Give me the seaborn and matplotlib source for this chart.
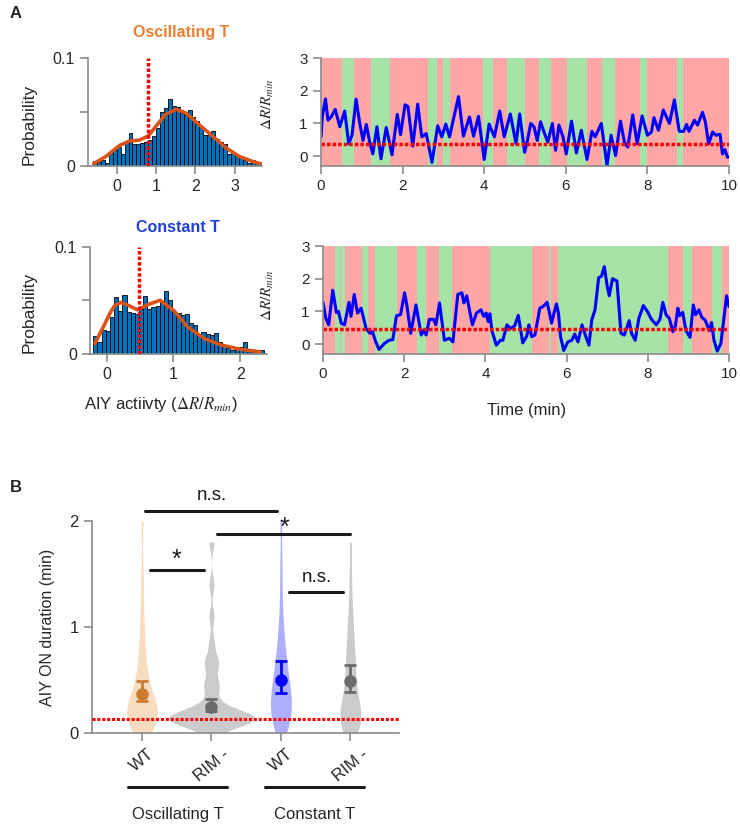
import matplotlib
matplotlib.use("Agg")
import matplotlib.pyplot as plt
import numpy as np
import pandas as pd
import seaborn as sns

# ---- panel A: histograms of AIY activity ----
osc_hist = [0.005, 0.004, 0.006, 0.003, 0.012, 0.015, 0.018, 0.011, 0.022, 0.031,
            0.020, 0.020, 0.021, 0.022, 0.024, 0.028, 0.035, 0.050, 0.054, 0.062,
            0.056, 0.055, 0.049, 0.047, 0.052, 0.045, 0.042, 0.036, 0.029, 0.029,
            0.032, 0.025, 0.022, 0.020, 0.011, 0.012, 0.009, 0.008, 0.006, 0.003,
            0.006, 0.004, 0.002]
osc_bin_range = (-0.6, 3.7)
osc_fit_x = [-0.59, -0.27, 0.07, 0.32, 0.57, 0.79, 1.0, 1.25, 1.51, 1.76, 2.1,
             2.44, 2.78, 3.12, 3.46, 3.67]
osc_fit_y = [0.002, 0.009, 0.019, 0.023, 0.024, 0.0275, 0.037, 0.048, 0.0525,
             0.049, 0.038, 0.0275, 0.0166, 0.0088, 0.004, 0.002]
osc_threshold = 0.79

const_hist = [0.016, 0.011, 0.022, 0.021, 0.034, 0.053, 0.040, 0.055, 0.039, 0.038,
              0.037, 0.042, 0.054, 0.042, 0.044, 0.045, 0.049, 0.059, 0.050, 0.039,
              0.038, 0.036, 0.037, 0.029, 0.027, 0.017, 0.020, 0.018, 0.017, 0.019,
              0.011, 0.008, 0.005, 0.003, 0.005, 0.006, 0.011, 0.004, 0.002, 0.002,
              0.003]
const_bin_range = (-0.2, 2.35)
const_fit_x = [-0.175, -0.05, 0.05, 0.12, 0.21, 0.33, 0.46, 0.62, 0.80, 1.01,
               1.21, 1.46, 1.71, 2.0, 2.3]
const_fit_y = [0.0095, 0.025, 0.038, 0.045, 0.048, 0.045, 0.041, 0.046, 0.050,
               0.040, 0.025, 0.014, 0.008, 0.004, 0.0015]
const_threshold = 0.49

# ---- panel A: example traces ----
osc_t = [0.00, 0.03, 0.11, 0.17, 0.25, 0.35, 0.46, 0.58, 0.68, 0.76, 0.86, 0.95,
         1.03, 1.11, 1.19, 1.27, 1.37, 1.47, 1.60, 1.74, 1.87, 1.95, 2.06, 2.13,
         2.25, 2.37, 2.47, 2.58, 2.72, 2.86, 2.96, 3.06, 3.15, 3.25, 3.37, 3.49,
         3.64, 3.74, 3.86, 4.00, 4.12, 4.25, 4.38, 4.49, 4.64, 4.78, 4.87, 4.99,
         5.06, 5.14, 5.22, 5.30, 5.38, 5.48, 5.56, 5.67, 5.75, 5.83, 5.93, 6.01,
         6.14, 6.26, 6.38, 6.52, 6.64, 6.72, 6.87, 7.01, 7.11, 7.22, 7.34, 7.44,
         7.52, 7.64, 7.75, 7.87, 8.00, 8.10, 8.16, 8.27, 8.39, 8.54, 8.66, 8.78,
         8.89, 8.96, 9.02, 9.15, 9.23, 9.35, 9.42, 9.50, 9.60, 9.68, 9.78, 9.84,
         9.90, 9.96, 10.0]
osc_dr = [0.59, 1.20, 1.75, 1.10, 1.20, 1.43, 0.90, 1.38, 0.38, 0.64, 1.74, 1.00,
          0.48, 0.97, 0.45, 0.07, 0.90, -0.08, 0.88, 0.04, 1.28, 0.66, 1.57, 1.52,
          0.31, 1.59, 0.59, 0.69, -0.19, 0.93, 0.59, 0.98, 0.59, 1.15, 1.82, 0.61,
          1.20, 0.61, 1.22, -0.10, 0.98, 0.59, 1.38, 0.59, 1.29, 0.38, 1.29, 0.12,
          0.48, 1.00, 0.90, 0.48, 1.05, 0.69, 0.43, 1.00, 0.18, 0.95, 0.59, 0.07,
          1.07, 0.10, 0.79, -0.10, 0.76, 0.59, 1.00, -0.29, 0.64, 0.02, 1.07, 0.41,
          0.28, 1.26, 0.38, 1.23, 0.64, 0.74, 1.18, 0.79, 1.41, 1.00, 1.72, 0.76,
          0.76, 0.97, 0.76, 1.10, 0.95, 1.34, 1.05, 0.38, 0.74, 0.64, 0.67, 0.07,
          0.20, -0.03, -0.03]
osc_on_start = [0.52, 1.23, 2.62, 2.98, 3.98, 4.57, 5.34, 6.03, 6.89, 7.83, 8.72]
osc_on_end = [0.80, 1.69, 2.84, 3.15, 4.22, 4.99, 5.63, 6.52, 7.20, 7.98, 8.88]
osc_trace_thr = 0.38

const_t = [0.00, 0.07, 0.14, 0.24, 0.33, 0.38, 0.45, 0.53, 0.64, 0.69, 0.77, 0.85,
           0.94, 1.06, 1.16, 1.22, 1.29, 1.38, 1.51, 1.63, 1.72, 1.81, 1.91, 2.01,
           2.07, 2.16, 2.29, 2.42, 2.48, 2.54, 2.62, 2.72, 2.78, 2.87, 2.99, 3.11,
           3.20, 3.32, 3.42, 3.47, 3.54, 3.68, 3.78, 3.89, 3.96, 4.02, 4.07, 4.11,
           4.16, 4.27, 4.37, 4.43, 4.53, 4.62, 4.72, 4.81, 4.92, 5.02, 5.07, 5.14,
           5.22, 5.34, 5.42, 5.52, 5.57, 5.63, 5.69, 5.75, 5.80, 5.85, 5.93, 6.03,
           6.13, 6.20, 6.28, 6.38, 6.46, 6.55, 6.62, 6.70, 6.79, 6.86, 6.93, 7.00,
           7.05, 7.13, 7.24, 7.34, 7.42, 7.48, 7.54, 7.60, 7.69, 7.78, 7.89, 7.99,
           8.09, 8.21, 8.30, 8.37, 8.45, 8.53, 8.62, 8.68, 8.74, 8.78, 8.86, 8.94,
           9.04, 9.12, 9.18, 9.26, 9.33, 9.41, 9.52, 9.57, 9.63, 9.71, 9.80, 9.86,
           9.94, 10.0]
const_dr = [1.28, 0.79, 0.59, 1.65, 0.97, 1.00, 0.64, 0.59, 1.28, 0.85, 1.52, 0.95,
            1.10, 0.48, 0.33, 0.38, 0.10, -0.16, 0.02, 0.12, 0.14, 0.87, 0.90, 1.57,
            1.15, 0.33, 1.20, 0.28, 0.43, 0.28, 0.76, 0.76, 0.59, 1.26, 0.12, 0.18,
            0.07, 1.52, 1.57, 1.26, 1.48, 0.59, 0.95, 1.05, 0.85, 0.95, 0.69, 0.93,
            0.41, -0.03, 0.12, 0.12, 0.59, 0.48, 0.56, 0.88, 0.04, 0.25, 0.59, 0.23,
            0.28, 1.10, 1.15, 1.28, 1.00, 0.64, 0.95, 1.23, 0.95, 0.23, -0.19, 0.07,
            0.12, 0.31, 0.07, 0.59, 0.28, -0.03, 0.74, 1.05, 2.03, 2.08, 2.37, 1.77,
            1.48, 2.00, 1.93, 0.33, 0.28, 0.48, 0.72, 0.33, 0.12, 0.79, 1.18, 1.00,
            0.76, 0.59, 0.76, 1.28, 0.90, 0.79, 0.38, 0.56, 1.10, 0.87, 0.97, 0.41,
            0.21, 1.20, 0.90, 1.05, 0.82, 0.74, 0.41, 0.66, 0.12, -0.21, 0.02, 0.64,
            1.48, 1.15]
const_on_start = [0.29, 0.45, 0.95, 1.27, 2.32, 2.85, 4.11, 5.57, 5.79, 8.86, 9.57]
const_on_end = [0.41, 0.55, 1.12, 1.82, 2.54, 3.17, 5.14, 5.61, 8.49, 9.08, 9.83]
const_trace_thr = 0.46

# ---- panel B: AIY ON durations (min) ----
group_keys = ["osc_wt", "osc_rim", "const_wt", "const_rim"]
group_ticklabels = ["WT", "RIM -", "WT", "RIM -"]
dur_osc_wt = [0.0, 0.04, 0.07, 0.09, 0.11, 0.13, 0.15, 0.16, 0.18, 0.20, 0.21, 0.23,
              0.25, 0.28, 0.30, 0.33, 0.37, 0.42, 0.48, 0.55, 0.63, 0.72, 0.85, 1.0,
              1.2, 1.5, 2.0]
dur_osc_rim = [0.0, 0.06, 0.09, 0.11, 0.12, 0.12, 0.13, 0.13, 0.13, 0.13, 0.14, 0.14,
               0.14, 0.15, 0.15, 0.16, 0.17, 0.19, 0.21, 0.25, 0.30, 0.42, 0.45, 0.48,
               0.62, 0.66, 0.70, 0.85, 1.1, 1.4, 1.8]
dur_const_wt = [0.0, 0.03, 0.07, 0.10, 0.13, 0.17, 0.20, 0.22, 0.25, 0.28, 0.30, 0.33,
                0.37, 0.40, 0.43, 0.47, 0.50, 0.55, 0.60, 0.65, 0.70, 0.78, 0.85, 0.95,
                1.1, 1.3, 1.6, 2.0]
dur_const_rim = [0.0, 0.03, 0.06, 0.09, 0.11, 0.13, 0.15, 0.17, 0.20, 0.23, 0.26, 0.30,
                 0.35, 0.42, 0.50, 0.57, 0.62, 0.68, 0.75, 0.85, 0.95, 1.05, 1.2, 1.45,
                 1.8]
dur_mean = [0.37, 0.25, 0.50, 0.49]
dur_lo = [0.30, 0.21, 0.38, 0.39]
dur_hi = [0.49, 0.32, 0.68, 0.64]
dur_threshold = 0.13

W, H = 740, 826
fig = plt.figure(figsize=(W / 100, H / 100), dpi=100)

sns.set_style("ticks")
plt.rcParams["font.family"] = ["Liberation Sans", "DejaVu Sans"]
plt.rcParams["mathtext.fontset"] = "stix"

SPINE = "#8a8a8a"
TEXT = "#262626"
DOTS = (0, (1, 0.6))


def box(left, top, right, bottom):
    return [left / W, 1 - bottom / H, (right - left) / W, (bottom - top) / H]


def put(x, y, s, **kw):
    fig.text(x / W, 1 - y / H, s, **kw)


def style_axis(ax, size=11.5):
    sns.despine(ax=ax)
    for side in ("left", "bottom"):
        ax.spines[side].set_color(SPINE)
        ax.spines[side].set_linewidth(1.2)
    ax.tick_params(color=SPINE, labelcolor=TEXT, length=6, width=1.2, labelsize=size)
    ax.set_xlabel("")
    ax.set_ylabel("")


def draw_hist(rect, heights, brange, fit_x, fit_y, thr, xlim, xticks):
    ax = fig.add_axes(box(*rect))
    lo, hi = brange
    step = (hi - lo) / len(heights)
    frame = pd.DataFrame({
        "activity": [lo + step * (i + 0.5) for i in range(len(heights))],
        "prob": heights,
    })
    sns.histplot(data=frame, x="activity", weights="prob", bins=len(heights),
                 binrange=brange, color="#0072BD", edgecolor="black",
                 linewidth=0.6, alpha=1, ax=ax)
    sns.lineplot(x=fit_x, y=fit_y, color="#D95319", linewidth=2.6, sort=False,
                 solid_joinstyle="round", solid_capstyle="round", ax=ax)
    ax.vlines(thr, 0, 0.1, color="red", linestyles=DOTS, linewidth=2.5, zorder=5)
    ax.set_xlim(*xlim)
    ax.set_ylim(0, 0.1)
    ax.set_yticks([0, 0.05, 0.1])
    ax.set_yticklabels(["0", "", "0.1"])
    ax.set_xticks(xticks)
    style_axis(ax)
    return ax


def draw_trace(rect, t, dr, on_start, on_end, thr):
    ax = fig.add_axes(box(*rect))
    ax.set_facecolor("#ffa6a6")
    for s, e in zip(on_start, on_end):
        ax.axvspan(s, e, color="#a6e3a6", linewidth=0)
    sns.lineplot(x=t, y=dr, color="#0000ff", linewidth=2.2, sort=False,
                 solid_joinstyle="round", ax=ax)
    ax.axhline(thr, color="red", linestyle=DOTS, linewidth=2.5)
    ax.set_xlim(0, 10)
    ax.set_ylim(-0.3, 3)
    ax.set_xticks([0, 2, 4, 6, 8, 10])
    ax.set_yticks([0, 1, 2, 3])
    style_axis(ax, 11)
    return ax


draw_hist((88, 58, 262, 166), osc_hist, osc_bin_range, osc_fit_x, osc_fit_y,
          osc_threshold, (-0.73, 3.69), [0, 1, 2, 3])
draw_hist((90, 247, 267, 353.5), const_hist, const_bin_range, const_fit_x, const_fit_y,
          const_threshold, (-0.25, 2.4), [0, 1, 2])
draw_trace((321, 58, 729, 166), osc_t, osc_dr, osc_on_start, osc_on_end, osc_trace_thr)
draw_trace((323, 246, 729, 354), const_t, const_dr, const_on_start, const_on_end,
           const_trace_thr)

# panel A text
put(10, 13, "A", fontsize=12, fontweight="bold", ha="left", va="center")
put(181, 33, "Oscillating T", color="#ED7D31", fontsize=11.5, fontweight="bold",
    ha="center", va="center")
put(178, 228, "Constant T", color="#1f3fd6", fontsize=11.5, fontweight="bold",
    ha="center", va="center")
put(29, 124, "Probability", fontsize=12.5, rotation=90, ha="center", va="center", color=TEXT)
put(29, 312, "Probability", fontsize=12.5, rotation=90, ha="center", va="center", color=TEXT)
put(268, 104, r"$\Delta R/R_{min}$", fontsize=11, rotation=90, ha="center", va="center",
    color=TEXT)
put(268, 295, r"$\Delta R/R_{min}$", fontsize=11, rotation=90, ha="center", va="center",
    color=TEXT)
put(161, 405, r"AIY actiivty ($\Delta R/R_{min}$)", fontsize=12, ha="center",
    va="center", color=TEXT)
put(527, 410, "Time (min)", fontsize=12, ha="center", va="center", color=TEXT)

# ---- panel B ----
axb = fig.add_axes(box(92, 521, 399, 733))
violin_data = [dur_osc_wt, dur_osc_rim, dur_const_wt, dur_const_rim]
violin_fill = ["#f8dcc0", "#cbcbcb", "#aeaeff", "#cbcbcb"]
violin_width = [0.44, 1.24, 0.30, 0.30]
violin_bw = [0.6, 0.35, 0.6, 0.6]
for key, vals, fill, wid, bw in zip(group_keys, violin_data, violin_fill,
                                    violin_width, violin_bw):
    sns.violinplot(x=[key] * len(vals), y=vals, order=group_keys, color=fill,
                   saturation=1, width=wid, bw_adjust=bw, cut=0, inner=None,
                   linewidth=0, ax=axb)

axb.axhline(dur_threshold, color="red", linestyle=DOTS, linewidth=2.2, zorder=3)
point_colors = ["#c97a33", "#6b6b6b", "#0000ff", "#6b6b6b"]
for i, (m, lo, hi, c) in enumerate(zip(dur_mean, dur_lo, dur_hi, point_colors)):
    axb.errorbar(i, m, yerr=[[m - lo], [hi - m]], fmt="o", color=c, markersize=8,
                 capsize=4, elinewidth=2, capthick=2, zorder=4)

axb.set_xlim(-0.72, 3.7)
axb.set_ylim(0, 2)
axb.set_yticks([0, 1, 2])
axb.set_xticks(range(len(group_keys)))
axb.set_xticklabels(group_ticklabels, rotation=40, ha="center")
style_axis(axb, 12)

# significance brackets
sig_x0 = [0.04, 1.08, 0.12, 2.12]
sig_x1 = [1.95, 2.99, 0.89, 2.90]
sig_y = [2.09, 1.88, 1.54, 1.33]
sig_text = ["n.s.", "*", "*", "n.s."]
sig_text_x = [1.0, 2.05, 0.5, 2.52]
sig_text_y = [2.24, 1.94, 1.63, 1.47]
for x0, x1, y, s, tx, ty in zip(sig_x0, sig_x1, sig_y, sig_text, sig_text_x, sig_text_y):
    axb.plot([x0, x1], [y, y], color="#1a1a1a", linewidth=2.2, clip_on=False)
    axb.text(tx, ty, s, ha="center", va="center", clip_on=False, color="#1a1a1a",
             fontsize=18 if s == "*" else 13.5)

# condition groups under the tick labels
grp_x0 = [-0.2, 1.77]
grp_x1 = [1.23, 3.2]
grp_names = ["Oscillating T", "Constant T"]
for x0, x1, name in zip(grp_x0, grp_x1, grp_names):
    axb.plot([x0, x1], [-0.51, -0.51], color="#1a1a1a", linewidth=2.2, clip_on=False)
    axb.text((x0 + x1) / 2, -0.77, name, ha="center", va="center", fontsize=12,
             color=TEXT, clip_on=False)

put(10, 487, "B", fontsize=12, fontweight="bold", ha="left", va="center")
put(48, 627, "AIY ON duration (min)", fontsize=11.5, rotation=90, ha="center",
    va="center", color=TEXT)

fig.savefig("out.png", dpi=100)
